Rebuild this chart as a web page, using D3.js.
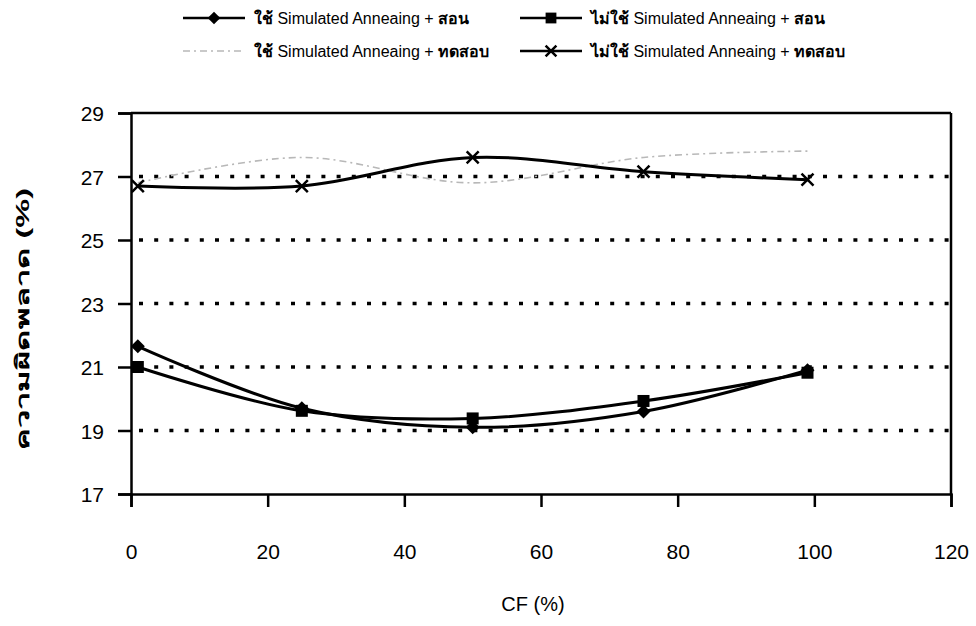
<!DOCTYPE html>
<html><head><meta charset="utf-8">
<script src="https://cdn.jsdelivr.net/npm/d3@7"></script>
<style>
body{margin:0;background:#fff;}
svg{display:block;}
text{font-family:"Liberation Sans",Arial,"Noto Sans",sans-serif;fill:#000;}
</style></head><body>
<svg id="c" width="976" height="626"></svg>
<script>
const cf = [1, 25, 50, 75, 99];
const seriesPrefix = ["ใช้", "ไม่ใช้", "ใช้", "ไม่ใช้"];
const seriesMiddle = " Simulated Anneaing + ";
const seriesSuffix = ["สอน", "สอน", "ทดสอบ", "ทดสอบ"];
const saTrain    = [21.65, 19.7, 19.1, 19.6, 20.9];
const noSaTrain  = [21.0, 19.62, 19.38, 19.93, 20.82];
const saTest     = [26.8, 27.6, 26.8, 27.6, 27.8];
const noSaTest   = [26.7, 26.7, 27.6, 27.15, 26.9];
const xTicks = [0, 20, 40, 60, 80, 100, 120];
const yTicks = [17, 19, 21, 23, 25, 27, 29];
const gridY = [19, 21, 23, 25, 27];
const yLabel = "ความผิดพลาด (%)";
const xLabel = "CF (%)";

const svg = d3.select("#c");
const L = 131, R = 951, T = 113, B = 494;
const x = d3.scaleLinear().domain([0, 120]).range([L, R]);
const y = d3.scaleLinear().domain([17, 29]).range([B, T]);

// gridlines
svg.append("g").selectAll("line").data(gridY).join("line")
  .attr("x1", L).attr("x2", R).attr("y1", d => y(d)).attr("y2", d => y(d))
  .attr("stroke", "#000").attr("stroke-width", 3.5)
  .attr("stroke-dasharray", "4 11.2").attr("stroke-dashoffset", -8);

// plot border top & right
svg.append("line").attr("x1", L).attr("x2", R).attr("y1", T).attr("y2", T)
  .attr("stroke", "#000").attr("stroke-width", 2.5);
svg.append("line").attr("x1", R).attr("x2", R).attr("y1", T).attr("y2", B)
  .attr("stroke", "#000").attr("stroke-width", 2.5);

// axes
const yAxis = svg.append("g").attr("transform", `translate(${L},0)`)
  .call(d3.axisLeft(y).tickValues(yTicks).tickSize(13).tickPadding(14).tickFormat(d3.format("d")));
const xAxis = svg.append("g").attr("transform", `translate(0,${B})`)
  .call(d3.axisBottom(x).tickValues(xTicks).tickSize(13).tickPadding(37).tickFormat(d3.format("d")));
[yAxis, xAxis].forEach(a => {
  a.select(".domain").attr("stroke", "#000").attr("stroke-width", 2.5);
  a.selectAll(".tick line").attr("stroke", "#000").attr("stroke-width", 2.5);
  a.selectAll(".tick text").attr("font-size", 21).attr("fill", "#000")
    .style("font-family", '"Liberation Sans", Arial, sans-serif');
});
yAxis.selectAll(".tick text").attr("dy", "0.36em");

// lines
const line = d3.line().x((d, i) => x(cf[i])).y(d => y(d)).curve(d3.curveCatmullRom.alpha(0));
const data = [saTrain, noSaTrain, saTest, noSaTest];
const styles = [
  {stroke: "#000", w: 3, dash: null, marker: "diamond"},
  {stroke: "#000", w: 3, dash: null, marker: "square"},
  {stroke: "#b8b8b8", w: 1.6, dash: "7 4 2 4", marker: null},
  {stroke: "#000", w: 3, dash: null, marker: "x"}
];
function drawMarker(g, type, cx, cy, s) {
  if (type === "diamond") {
    const r = 7 * s;
    g.append("path").attr("d", `M${cx},${cy - r}L${cx + r},${cy}L${cx},${cy + r}L${cx - r},${cy}Z`)
      .attr("fill", "#000");
  } else if (type === "square") {
    g.append("rect").attr("x", cx - 6 * s).attr("y", cy - 6 * s)
      .attr("width", 12 * s).attr("height", 12 * s).attr("fill", "#000");
  } else if (type === "x") {
    const r = 6 * s;
    g.append("path").attr("d", `M${cx - r},${cy - r}L${cx + r},${cy + r}M${cx - r},${cy + r}L${cx + r},${cy - r}`)
      .attr("stroke", "#000").attr("stroke-width", 2.5).attr("fill", "none");
  }
}
data.forEach((vals, k) => {
  const st = styles[k];
  svg.append("path").attr("d", line(vals)).attr("fill", "none")
    .attr("stroke", st.stroke).attr("stroke-width", st.w)
    .attr("stroke-dasharray", st.dash);
  if (st.marker) {
    const g = svg.append("g");
    vals.forEach((v, i) => drawMarker(g, st.marker, x(cf[i]), y(v), 1));
  }
});

// legend
const legPos = [[183, 18], [520, 18], [183, 51], [520, 51]];
seriesPrefix.forEach((pre, k) => {
  const [lx, ly] = legPos[k];
  const st = styles[k];
  const g = svg.append("g");
  g.append("line").attr("x1", lx).attr("x2", lx + 62).attr("y1", ly).attr("y2", ly)
    .attr("stroke", st.stroke).attr("stroke-width", st.w === 3 ? 2.5 : 1.6)
    .attr("stroke-dasharray", st.dash);
  if (st.marker) drawMarker(g, st.marker, lx + 31, ly, 0.9);
  const t = g.append("text").attr("x", lx + 71).attr("y", ly).attr("dy", "0.35em")
    .attr("font-size", 16);
  t.append("tspan").attr("font-weight", "bold").text(pre);
  t.append("tspan").text(seriesMiddle);
  t.append("tspan").attr("font-weight", "bold").text(seriesSuffix[k]);
});

// axis titles
svg.append("text").attr("transform", `translate(23,319) rotate(-90)`)
  .attr("text-anchor", "middle").attr("dy", "0.35em")
  .attr("font-size", 18).attr("font-weight", "bold")
  .attr("textLength", 262).attr("lengthAdjust", "spacingAndGlyphs").text(yLabel);
svg.append("text").attr("x", (L + R) / 2 - 8).attr("y", 604).attr("dy", "0.35em")
  .attr("text-anchor", "middle").attr("font-size", 20).text(xLabel);
</script>
</body></html>
